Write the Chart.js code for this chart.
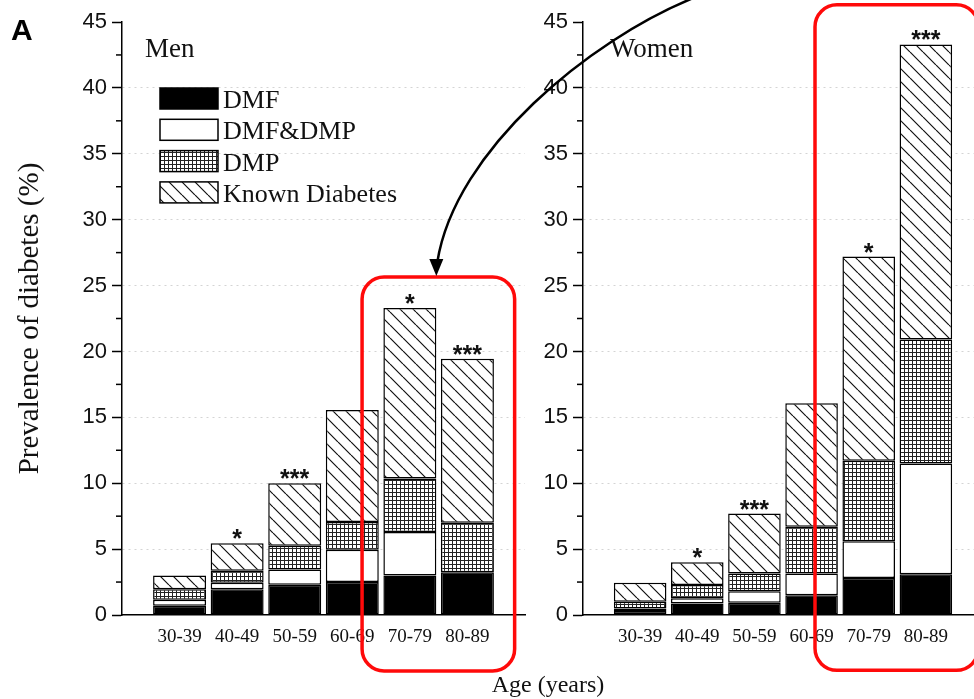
<!DOCTYPE html>
<html>
<head>
<meta charset="utf-8">
<script src="https://cdn.jsdelivr.net/npm/chart.js@4"></script>
<style>
  html, body { margin: 0; padding: 0; background: #fff; overflow: hidden; }
  #wrap { position: relative; width: 974px; height: 699px; overflow: hidden; }
  canvas { position: absolute; left: 0; top: 0; }
</style>
</head>
<body>
<div id="wrap">
  <canvas id="menChart" width="974" height="699"></canvas>
  <canvas id="womenChart" width="1000" height="699"></canvas>
</div>
<script>
// =====================
// Data
// =====================
const ageGroups = ["30-39", "40-49", "50-59", "60-69", "70-79", "80-89"];
const seriesNames = ["DMF", "DMF&DMP", "DMP", "Known Diabetes"];

const menDMF      = [0.7, 1.95, 2.3, 2.5, 3.0, 3.25];
const menDMFDMP   = [0.45, 0.5, 1.15, 2.45, 3.3, 0.0];
const menDMP      = [0.8, 0.9, 1.8, 2.1, 4.05, 3.75];
const menKnown    = [1.05, 2.1, 4.75, 8.5, 12.95, 12.45];

const womenDMF    = [0.3, 0.87, 0.93, 1.5, 2.8, 3.1];
const womenDMFDMP = [0.2, 0.4, 0.87, 1.64, 2.8, 8.4];
const womenDMP    = [0.5, 1.0, 1.34, 3.55, 6.1, 9.4];
const womenKnown  = [1.45, 1.73, 4.56, 9.37, 15.5, 22.4];

const menStars   = ["", "*", "***", "", "*", "***"];
const womenStars = ["", "*", "***", "", "*", "***"];

const yMin = 0, yMax = 45, yStep = 5;

// empty slot on each side of the six age groups
const xLabels = ["", ...ageGroups, ""];
const pad = v => [null, ...v, null];

// =====================
// Fill patterns
// =====================
function makeGrid() {
  const c = document.createElement("canvas");
  c.width = 4; c.height = 4;
  const g = c.getContext("2d");
  g.fillStyle = "#fff"; g.fillRect(0, 0, 4, 4);
  g.fillStyle = "#222"; g.fillRect(0, 0, 4, 1); g.fillRect(0, 0, 1, 4);
  return g.createPattern(c, "repeat");
}

function makeHatch(s) {
  const c = document.createElement("canvas");
  c.width = s; c.height = s;
  const g = c.getContext("2d");
  g.fillStyle = "#fff"; g.fillRect(0, 0, s, s);
  g.strokeStyle = "#111"; g.lineWidth = 1.2;
  g.beginPath();
  [-s, 0, s].forEach(k => { g.moveTo(k, 0); g.lineTo(k + s, s); });
  g.stroke();
  return g.createPattern(c, "repeat");
}

const fills = ["#000", "#fff", makeGrid(), makeHatch(13)];

function roundBox(ctx, x1, y1, x2, y2, r) {
  ctx.beginPath();
  ctx.moveTo(x1 + r, y1);
  ctx.arcTo(x2, y1, x2, y2, r);
  ctx.arcTo(x2, y2, x1, y2, r);
  ctx.arcTo(x1, y2, x1, y1, r);
  ctx.arcTo(x1, y1, x2, y1, r);
  ctx.closePath();
}

// =====================
// Per-panel extras: minor ticks, panel name, stars, red box
// =====================
function panelPlugin(p) {
  return {
    id: "panel",
    afterDraw(chart) {
      const ctx = chart.ctx;
      const { left, top } = chart.chartArea;
      const xs = chart.scales.x, ys = chart.scales.y;
      ctx.save();

      // minor ticks
      ctx.strokeStyle = "#000"; ctx.lineWidth = 1.5;
      for (let v = yMin + yStep / 2; v < yMax; v += yStep) {
        const py = ys.getPixelForValue(v);
        ctx.beginPath(); ctx.moveTo(left - 6, py); ctx.lineTo(left, py); ctx.stroke();
      }

      // panel name
      ctx.fillStyle = "#111";
      ctx.textAlign = "left"; ctx.textBaseline = "alphabetic";
      ctx.font = '27px "Liberation Serif"';
      ctx.fillText(p.name, left + p.nameDx, top + 35);

      // significance stars on top of each stack
      const meta = chart.getDatasetMeta(3);
      ctx.font = 'bold 25px "Liberation Sans"';
      ctx.textAlign = "center";
      p.stars.forEach((s, i) => {
        const el = meta.data[i + 1];
        if (s && el) ctx.fillText(s, el.x, el.y + 4);
      });

      // legend (men only)
      if (p.legend) {
        ctx.textAlign = "left";
        chart.data.datasets.forEach((ds, i) => {
          const bx = left + 38, by = top + 66 + i * 31.3;
          ctx.fillStyle = ds.backgroundColor;
          ctx.fillRect(bx, by, 58, 21);
          ctx.strokeStyle = "#000"; ctx.lineWidth = 1.5;
          ctx.strokeRect(bx, by, 58, 21);
          ctx.fillStyle = "#111";
          ctx.font = '26px "Liberation Serif"';
          ctx.fillText(ds.label, bx + 63, by + 20);
        });
      }

      // red highlight box
      const pitch = xs.getPixelForValue(1) - xs.getPixelForValue(0);
      ctx.strokeStyle = "#ff0a0a"; ctx.lineWidth = 3.5;
      roundBox(ctx,
        xs.getPixelForValue(5) - p.box[0] * pitch, ys.getPixelForValue(p.box[2]),
        xs.getPixelForValue(6) + p.box[1] * pitch, ys.getPixelForValue(p.box[3]), 22);
      ctx.stroke();

      if (p.extra) p.extra(chart, ctx);
      ctx.restore();
    }
  };
}

function makeChart(id, series, p) {
  return new Chart(document.getElementById(id), {
    type: "bar",
    data: {
      labels: xLabels,
      datasets: series.map((d, i) => ({
        label: seriesNames[i],
        data: pad(d),
        backgroundColor: fills[i]
      }))
    },
    options: {
      responsive: false,
      animation: false,
      layout: { padding: p.padding },
      datasets: {
        bar: {
          borderColor: "#000", borderWidth: 1.5, borderSkipped: false,
          barPercentage: 0.92, categoryPercentage: 1
        }
      },
      plugins: { legend: { display: false }, tooltip: { enabled: false } },
      scales: {
        x: {
          stacked: true,
          offset: false,
          grid: { display: false, drawTicks: false },
          border: { color: "#000", width: 1.5 },
          ticks: {
            autoSkip: false, maxRotation: 0, padding: 11, color: "#111",
            font: { family: "Liberation Serif", size: 19 }
          },
          afterFit: s => { s.height = 84; }
        },
        y: {
          stacked: true,
          min: yMin, max: yMax,
          ticks: {
            stepSize: yStep, padding: 5, color: "#111",
            font: { family: "Liberation Sans", size: 22 }
          },
          grid: {
            color: c => (c.tick && c.tick.value > yMin && c.tick.value < yMax) ? "rgba(0,0,0,0.17)" : "rgba(0,0,0,0)",
            tickColor: "#000", tickLength: 10, tickWidth: 1.5
          },
          border: { color: "#000", width: 1.5, dash: [2, 4] },
          title: p.yTitle ? {
            display: true, text: p.yTitle, color: "#111",
            font: { family: "Liberation Serif", size: 29 },
            padding: { top: 13, bottom: 0 }
          } : { display: false },
          afterFit: s => { s.width = p.yWidth; }
        }
      }
    },
    plugins: [panelPlugin(p)]
  });
}

// =====================
// Men panel
// =====================
const menChart = makeChart("menChart", [menDMF, menDMFDMP, menDMP, menKnown], {
  padding: { left: 0, right: 449, top: 22, bottom: 0 },
  yWidth: 122,
  yTitle: "Prevalence of diabetes (%)",
  name: "Men", nameDx: 23,
  stars: menStars,
  legend: true,
  box: [0.83, 0.82, 25.65, -4.25],
  extra: (chart, ctx) => {
    ctx.fillStyle = "#000";
    ctx.textAlign = "left";
    ctx.font = 'bold 30px "Liberation Sans"';
    ctx.fillText("A", 11, 40);
    ctx.fillStyle = "#111";
    ctx.textAlign = "center";
    ctx.font = '24px "Liberation Serif"';
    ctx.fillText("Age (years)", 548, 692);
  }
});

// =====================
// Women panel (+ arrow pointing to the men box)
// =====================
const womenChart = makeChart("womenChart", [womenDMF, womenDMFDMP, womenDMP, womenKnown], {
  padding: { left: 500, right: 17, top: 22, bottom: 0 },
  yWidth: 83,
  name: "Women", nameDx: 27,
  stars: womenStars,
  legend: false,
  box: [0.94, 0.92, 46.3, -4.2],
  extra: (chart, ctx) => {
    const my = menChart.scales.y;
    const el = menChart.getDatasetMeta(3).data[5];
    const tipX = el.x + el.width / 2;
    const tipY = my.getPixelForValue(25.65) - 1;
    const sx = chart.scales.x.getPixelForValue(1.93);
    ctx.strokeStyle = "#000"; ctx.lineWidth = 2.5;
    ctx.beginPath();
    ctx.moveTo(sx, -2);
    ctx.bezierCurveTo(590, 40, 455, 150, tipX + 1, tipY - 14);
    ctx.stroke();
    ctx.fillStyle = "#000";
    ctx.beginPath();
    ctx.moveTo(tipX, tipY);
    ctx.lineTo(tipX - 7, tipY - 17);
    ctx.lineTo(tipX + 7, tipY - 17);
    ctx.closePath();
    ctx.fill();
  }
});
</script>
</body>
</html>
